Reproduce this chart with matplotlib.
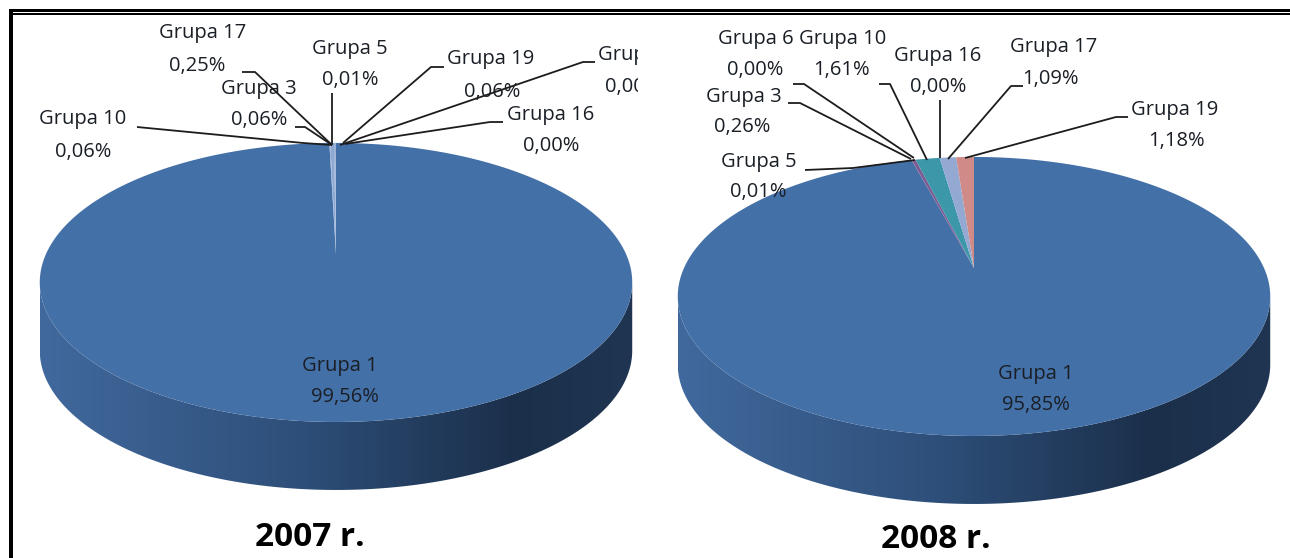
import numpy as np
import matplotlib.pyplot as plt
from matplotlib.colors import LinearSegmentedColormap
from matplotlib.patches import Polygon
from matplotlib.transforms import Bbox, TransformedBbox

plt.rcParams['font.family'] = ['Open Sans', 'DejaVu Sans']

# shares in percent, clockwise from twelve o'clock
groups_2007 = ['Grupa 1', 'Grupa 10', 'Grupa 17', 'Grupa 3', 'Grupa 5', 'Grupa 6', 'Grupa 19', 'Grupa 16']
values_2007 = [99.56, 0.06, 0.25, 0.06, 0.01, 0.00, 0.06, 0.00]
groups_2008 = ['Grupa 1', 'Grupa 5', 'Grupa 3', 'Grupa 6', 'Grupa 10', 'Grupa 16', 'Grupa 17', 'Grupa 19']
values_2008 = [95.85, 0.01, 0.26, 0.00, 1.61, 0.00, 1.09, 1.18]

colors_2008 = {'Grupa 1': '#4470a8', 'Grupa 3': '#7d5b93', 'Grupa 5': '#8a5570', 'Grupa 6': '#c0504d',
               'Grupa 10': '#3c97a8', 'Grupa 16': '#e08b3c', 'Grupa 17': '#93a9d2', 'Grupa 19': '#d08a88'}
# the thin 2007 slices read as one pale sliver
colors_2007 = {name: '#8fa9d2' for name in groups_2007}
colors_2007['Grupa 1'] = '#4470a8'

side_cmap = LinearSegmentedColormap.from_list(
    'side', [(0, '#41699d'), (0.45, '#2d4e78'), (0.8, '#1b2f4a'), (1, '#1f3552')])

# label centres as (x, name y, value y, value x)
labels_2007 = {'Grupa 1': (340, 366, 397, 345), 'Grupa 10': (83, 119, 152, 83), 'Grupa 17': (203, 33, 66, 197),
               'Grupa 3': (259, 89, 120, 259), 'Grupa 5': (350, 49, 80, 350), 'Grupa 19': (491, 59, 92, 492),
               'Grupa 16': (551, 115, 146, 551)}
labels_2008 = {'Grupa 1': (1036, 374, 405, 1036), 'Grupa 5': (759, 162, 192, 758), 'Grupa 3': (744, 97, 127, 742),
               'Grupa 6': (756, 39, 70, 755), 'Grupa 10': (843, 39, 70, 841), 'Grupa 16': (938, 56, 87, 938),
               'Grupa 17': (1054, 47, 79, 1050), 'Grupa 19': (1175, 110, 141, 1176)}

leaders_2007 = [[(137, 127), (303, 143), (332, 145)],
                [(242, 72), (255, 72), (332, 145)],
                [(295, 127), (305, 127), (332, 145)],
                [(332, 93), (332, 145)],
                [(444, 67), (431, 67), (343, 143)],
                [(595, 62), (583, 62), (340, 145)],
                [(503, 122), (490, 122), (345, 144)]]
leaders_2008 = [[(793, 84), (804, 84), (914, 158)],
                [(788, 103), (800, 103), (911, 159)],
                [(805, 170), (853, 168), (915, 160)],
                [(879, 84), (890, 84), (927, 160)],
                [(940, 100), (940, 158)],
                [(1023, 86), (1011, 86), (948, 159)],
                [(1128, 117), (1116, 117), (965, 158)]]

DEPTH = 68
TILT = 0.204
LABEL_SIZE = 14.5
LABEL_COLOR = '#1a1f26'


def project(t, cx, cy, rx=290, ry=133.7):
    # perspective view of a flat disc, the far edge shrinks towards the top
    x, y = np.sin(t), np.cos(t)
    w = 1 + TILT * y
    return cx + rx * x / w, cy - ry * y / w


def draw_pie(ax, groups, values, colors, cx, cy):
    t = np.linspace(0, 2 * np.pi, 721)[:-1]
    px, py = project(t, cx, cy)
    # front arc of the rim, right extreme round to left extreme
    i0, i1 = px.argmax(), px.argmin()
    ax_x = np.r_[px[i0:i1 + 1], px[i0:i1 + 1][::-1]]
    ax_y = np.r_[py[i0:i1 + 1], py[i0:i1 + 1][::-1] + DEPTH]
    side = Polygon(np.c_[ax_x, ax_y], closed=True, transform=ax.transData, fc='none', ec='none')
    ax.add_patch(side)
    im = ax.imshow(np.linspace(0, 1, 256)[None, :], cmap=side_cmap, aspect='auto', zorder=1,
                   extent=(px.min(), px.max(), py.max() + DEPTH, py.min()))
    im.set_clip_path(side)

    edges = np.r_[0, np.cumsum(values)] / np.sum(values) * 2 * np.pi
    for name, a, b in zip(groups, edges[:-1], edges[1:]):
        if b <= a:
            continue
        arc = np.linspace(a, b, max(int((b - a) * 120), 8))
        wx, wy = project(arc, cx, cy)
        ax.fill(np.r_[cx, wx], np.r_[cy, wy], color=colors[name], lw=0, zorder=2)


def draw_labels(ax, labels, values, groups):
    for name, (x, y1, y2, x2) in labels.items():
        val = values[groups.index(name)]
        ax.text(x, y1, name, ha='center', va='center', fontsize=LABEL_SIZE, color=LABEL_COLOR, zorder=3)
        ax.text(x2, y2, f'{val:.2f}%'.replace('.', ','), ha='center', va='center',
                fontsize=LABEL_SIZE, color=LABEL_COLOR, zorder=3)


def draw_leaders(ax, leaders):
    for pts in leaders:
        xs, ys = zip(*pts)
        ax.plot(xs, ys, color='#1c1c1c', lw=1.3, zorder=4, solid_capstyle='butt')


fig = plt.figure(figsize=(12.9, 5.58), dpi=100, facecolor='white')
ax = fig.add_axes([0, 0, 1, 1])

draw_pie(ax, groups_2007, values_2007, colors_2007, 336, 254)
draw_pie(ax, groups_2008, values_2008, colors_2008, 974, 268)

draw_labels(ax, labels_2007, values_2007, groups_2007)
draw_labels(ax, labels_2008, values_2008, groups_2008)

# the outermost 2007 label runs off the chart area and gets cut
cut = TransformedBbox(Bbox([[590, 30], [638, 110]]), ax.transData)
for y, s, x in [(55, 'Grupa 6', 598), (87, '0,00%', 605)]:
    t = ax.text(x, y, s, ha='left', va='center', fontsize=LABEL_SIZE, color=LABEL_COLOR, zorder=3)
    t.set_clip_box(cut)
    t.set_clip_on(True)

draw_leaders(ax, leaders_2007)
draw_leaders(ax, leaders_2008)

ax.text(310, 537, '2007 r.', ha='center', va='center', fontsize=24, fontweight='bold', color='black')
ax.text(936, 540, '2008 r.', ha='center', va='center', fontsize=24, fontweight='bold', color='black')

# double rule along the top, heavy rule down the left side
ax.fill_between([9, 1290], 9, 11.5, color='black', lw=0, zorder=5)
ax.fill_between([13, 1290], 13, 14.5, color='black', lw=0, zorder=5)
ax.fill_between([9, 13], 9, 558, color='black', lw=0, zorder=5)

ax.set_xlim(0, 1290)
ax.set_ylim(558, 0)
ax.axis('off')

fig.savefig('out.png', dpi=100)
